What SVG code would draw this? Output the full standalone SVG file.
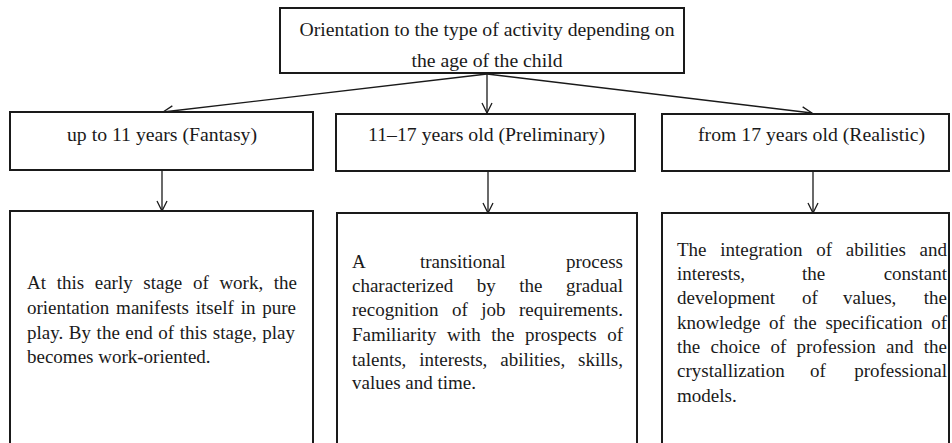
<svg xmlns="http://www.w3.org/2000/svg" width="952" height="443" viewBox="0 0 952 443">
<style>
.box{fill:#fff;stroke:#1a1a1a;stroke-width:2}
.t{font-family:"Liberation Serif","Times New Roman",serif;font-size:19px;fill:#1a1a1a}
.c{text-anchor:middle}
.e{text-anchor:end}
.ln{stroke:#1a1a1a;stroke-width:1.3;fill:none}
</style>
<defs>
<marker id="ar" viewBox="0 0 12 12" refX="11" refY="6" markerWidth="12" markerHeight="12" markerUnits="userSpaceOnUse" orient="auto">
<path d="M1,1 L11,6 L1,11" fill="none" stroke="#1a1a1a" stroke-width="1.3"/>
</marker>
</defs>
<rect width="952" height="443" fill="#fff"/>
<g id="connectors">
<line class="ln" x1="487" y1="74" x2="163" y2="112" marker-end="url(#ar)"/>
<line class="ln" x1="487" y1="74" x2="487" y2="113" marker-end="url(#ar)"/>
<line class="ln" x1="487" y1="74" x2="812" y2="113" marker-end="url(#ar)"/>
<line class="ln" x1="162" y1="170" x2="162" y2="211" marker-end="url(#ar)"/>
<line class="ln" x1="488" y1="171" x2="488" y2="213" marker-end="url(#ar)"/>
<line class="ln" x1="813" y1="171" x2="813" y2="213" marker-end="url(#ar)"/>
</g>
<g id="root">
<rect class="box" x="280" y="8" width="404" height="65"/>
<text class="t c" x="487" y="36" textLength="375" lengthAdjust="spacingAndGlyphs">Orientation to the type of activity depending on</text>
<text class="t c" x="487" y="67" textLength="151" lengthAdjust="spacingAndGlyphs">the age of the child</text>
</g>
<g id="fantasy">
<rect class="box" x="10" y="112" width="303" height="58"/>
<text class="t c" x="162" y="141" textLength="190" lengthAdjust="spacingAndGlyphs">up to 11 years (Fantasy)</text>
</g>
<g id="preliminary">
<rect class="box" x="336" y="114" width="299" height="57"/>
<text class="t c" x="486.5" y="141" textLength="237" lengthAdjust="spacingAndGlyphs">11–17 years old (Preliminary)</text>
</g>
<g id="realistic">
<rect class="box" x="662" y="114" width="287" height="57"/>
<text class="t c" x="811.5" y="141" textLength="227" lengthAdjust="spacingAndGlyphs">from 17 years old (Realistic)</text>
</g>
<g id="fantasy-desc">
<rect class="box" x="10" y="211" width="303" height="240"/>
<text class="t" x="27" y="289" word-spacing="5.9" textLength="270" lengthAdjust="spacing">At this early stage of work, the</text>
<text class="t" x="27" y="314" word-spacing="2.1" textLength="269" lengthAdjust="spacing">orientation manifests itself in pure</text>
<text class="t" x="27" y="339" word-spacing="0.7" textLength="268" lengthAdjust="spacing">play. By the end of this stage, play</text>
<text class="t" x="27" y="363">becomes work-oriented.</text>
</g>
<g id="preliminary-desc">
<rect class="box" x="337" y="213" width="300" height="240"/>
<text class="t" x="352" y="268">A</text>
<text class="t" x="420" y="268">transitional</text>
<text class="t e" x="623" y="268">process</text>
<text class="t" x="352" y="292" word-spacing="18.8" textLength="271" lengthAdjust="spacing">characterized by the gradual</text>
<text class="t" x="352" y="316" word-spacing="8.7" textLength="271" lengthAdjust="spacing">recognition of job requirements.</text>
<text class="t" x="352" y="341" word-spacing="5.7" textLength="271" lengthAdjust="spacing">Familiarity with the prospects of</text>
<text class="t" x="352" y="366" word-spacing="8.2" textLength="271" lengthAdjust="spacing">talents, interests, abilities, skills,</text>
<text class="t" x="352" y="389">values and time.</text>
</g>
<g id="realistic-desc">
<rect class="box" x="662" y="213" width="287" height="240"/>
<text class="t" x="677" y="256" word-spacing="8.9" textLength="270" lengthAdjust="spacing">The integration of abilities and</text>
<text class="t" x="677" y="280">interests,</text>
<text class="t" x="802" y="280">the</text>
<text class="t e" x="947" y="280">constant</text>
<text class="t" x="677" y="304">development</text>
<text class="t" x="802" y="304">of</text>
<text class="t" x="843" y="304">values,</text>
<text class="t e" x="947" y="304">the</text>
<text class="t" x="677" y="329" word-spacing="3.9" textLength="270" lengthAdjust="spacing">knowledge of the specification of</text>
<text class="t" x="677" y="353" word-spacing="5.6" textLength="270" lengthAdjust="spacing">the choice of profession and the</text>
<text class="t" x="677" y="377">crystallization</text>
<text class="t" x="810" y="377">of</text>
<text class="t e" x="947" y="377">professional</text>
<text class="t" x="677" y="402">models.</text>
</g>
</svg>
